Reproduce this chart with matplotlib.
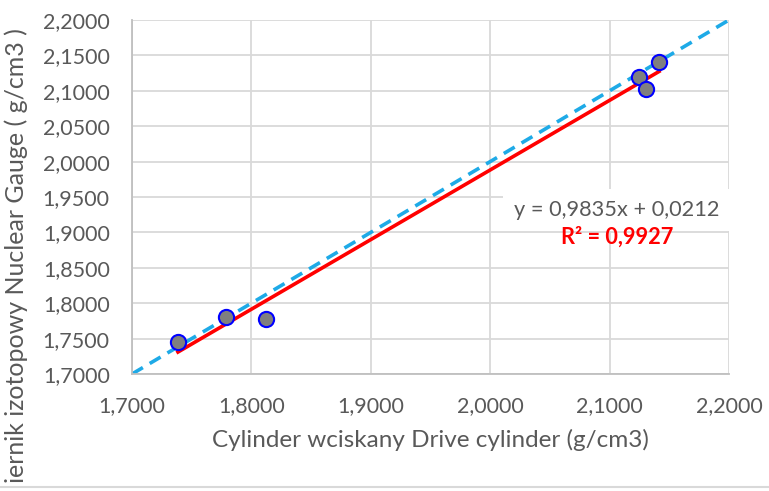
import matplotlib
matplotlib.use('Agg')
from matplotlib import pyplot as plt
from matplotlib.ticker import FuncFormatter
from matplotlib.transforms import Bbox, TransformedBbox
import numpy as np

plt.rcParams['font.family'] = ['Lato', 'DejaVu Sans']

# dane
cylinder = [1.7385, 1.7787, 1.8122, 2.1246, 2.1305, 2.1414]
nuclear = [1.7450, 1.7800, 1.7780, 2.1200, 2.1030, 2.1400]
slope, intercept = 0.9835, 0.0212
eq_text = 'y = 0,9835x + 0,0212'
r2_text = 'R² = 0,9927'

x_label = 'Cylinder wciskany Drive cylinder (g/cm3)'
y_label = 'Miernik izotopowy Nuclear Gauge ( g/cm3 )'

fig = plt.figure(figsize=(7.69, 4.91), dpi=100)
ax = fig.add_axes([132/769, 1 - 374/491, (729-132)/769, (374-20)/491])

# linia y = x
ref = np.array([1.7, 2.2])
ax.plot(ref, ref, color='#1EAAE7', lw=2.6, ls=(0, (3.5, 2.2)), zorder=2)

# linia trendu
tx = np.array([min(cylinder), max(cylinder)])
ax.plot(tx, slope * tx + intercept, color='#FF0000', lw=2.6, zorder=3)

ax.scatter(cylinder, nuclear, s=120, facecolor='#7F7F7F', edgecolor='#0000FF',
           linewidths=1.5, zorder=4, clip_on=False)

ax.set_xlim(1.7, 2.2)
ax.set_ylim(1.7, 2.2)
ax.set_xticks(np.arange(1.7, 2.21, 0.1))
ax.set_yticks(np.arange(1.7, 2.21, 0.05))
fmt = FuncFormatter(lambda v, p: f'{v:.4f}'.replace('.', ','))
ax.xaxis.set_major_formatter(fmt)
ax.yaxis.set_major_formatter(fmt)
ax.tick_params(length=0, labelsize=15.5, colors='#595959', pad=16)
ax.grid(True, color='#D9D9D9', lw=1.3)
ax.set_axisbelow(True)
for s in ['top', 'right']:
    ax.spines[s].set_visible(False)
for s in ['left', 'bottom']:
    ax.spines[s].set_color('#BFBFBF')
    ax.spines[s].set_linewidth(1.3)

ax.set_xlabel(x_label, fontsize=17.5, color='#595959', labelpad=9)

# opis linii trendu
ax.text(2.1062, 1.9316, eq_text, fontsize=15.7, color='#595959', ha='center', va='center',
        bbox=dict(facecolor='white', edgecolor='none', pad=8), zorder=5)
ax.text(2.1062, 1.8935, r2_text, fontsize=15.7, color='#FF0000', fontweight='bold',
        ha='center', va='center', zorder=6)

# etykieta osi Y - ucięta na dole jak w oryginale
yl = fig.text(4/769, 1 - 28/491, y_label, rotation=90, fontsize=18, color='#595959',
              ha='left', va='top')
yl.set_clip_box(TransformedBbox(Bbox([[0, 5/491], [1, 1]]), fig.transFigure))
yl.set_clip_on(True)
fig.add_artist(plt.Line2D([0, 1], [4/491, 4/491], color='#D9D9D9', lw=1.5))

fig.savefig('out.png', dpi=100)
